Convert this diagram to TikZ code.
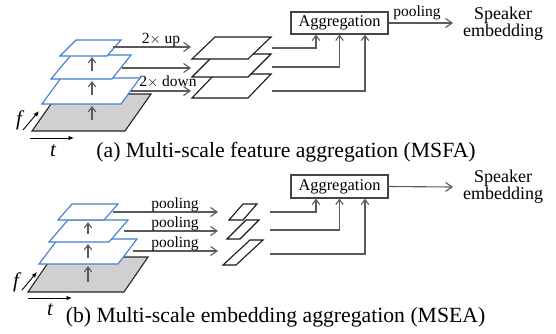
\documentclass[tikz,border=0pt]{standalone}
\usepackage{fontspec}
\setmainfont{Liberation Serif}
\usetikzlibrary{arrows.meta}
\definecolor{arrgray}{HTML}{5A5A5A}
\definecolor{planeblue}{HTML}{3F7FCC}
\definecolor{planegray}{HTML}{D0D0D0}
\definecolor{boxgray}{HTML}{444444}
\begin{document}
\begin{tikzpicture}[x=1pt,y=-1pt,
  arr/.style={draw=arrgray, line width=1.1pt, -{Straight Barb[length=6.5pt,width=9pt,line width=1.1pt]}},
  uparr/.style={draw=arrgray, line width=1.1pt, -{Straight Barb[length=5pt,width=7.5pt,line width=1.1pt]}},
  axarr/.style={draw=black, line width=0.9pt, -{Latex[length=5.5pt,width=4.5pt]}},
  blueplane/.style={draw=planeblue, line width=1.1pt, fill=white},
  grayplane/.style={draw=black!85, line width=1.1pt, fill=planegray},
  blackplane/.style={draw=black!90, line width=1.1pt, fill=white},
  aggbox/.style={draw=boxgray, line width=1.2pt, minimum width=97pt, minimum height=22pt, inner sep=0pt, font=\fontsize{16.4}{18}\selectfont},
  lbl/.style={font=\fontsize{15.5}{17}\selectfont, inner sep=1pt},
  spk/.style={font=\fontsize{18}{17.5}\selectfont, align=center, inner sep=0pt},
  captxt/.style={font=\fontsize{21.7}{24}\selectfont, inner sep=0pt},
  axlbl/.style={font=\fontsize{21}{24}\selectfont\itshape, inner sep=0pt}]
\path[use as bounding box] (0,0) rectangle (556,333);

% ================= Panel (a) =================
\draw[grayplane] (32,131) -- (125,131) -- (151,94) -- (58,94) -- cycle;
\draw[uparr] (92,120) -- (92,106);
\draw[blueplane] (42,104) -- (121,104) -- (140,78) -- (61,78) -- cycle;
\draw[uparr] (92,95) -- (92,81);
\draw[blueplane] (51,79) -- (112,79) -- (131,55) -- (71,55) -- cycle;
\draw[uparr] (92,71) -- (92,57);
\draw[blueplane] (60,56) -- (107,56) -- (121,40) -- (76,40) -- cycle;

\coordinate (fa0) at (23,130); \coordinate (fa1) at (39,111);
\draw[axarr] (fa0) -- (fa1);
\node[axlbl] (fA) at (19,120) {f};
\coordinate (ta0) at (30,138); \coordinate (ta1) at (74,138);
\draw[axarr] (ta0) -- (ta1);
\node[axlbl] (tA) at (53,151) {t};

% arrows to black planes
\coordinate (a1s) at (113,47); \coordinate (a1e) at (191,47);
\coordinate (a2s) at (122,68); \coordinate (a2e) at (191,68);
\coordinate (a3s) at (131,91); \coordinate (a3e) at (191,91);
\draw[arr] (a1s) -- (a1e);
\draw[arr] (a2s) -- (a2e);
\draw[arr] (a3s) -- (a3e);
\node[lbl] (upl) at (161,40) {2$\times$ up};
\node[lbl] (downl) at (168,82) {2$\times$ down};

% black planes
\draw[blackplane] (192,98) -- (248,98) -- (271,74) -- (215,74) -- cycle;
\draw[blackplane] (192,77) -- (248,77) -- (271,54) -- (215,54) -- cycle;
\draw[blackplane] (192,59) -- (248,59) -- (271,37) -- (215,37) -- cycle;

% aggregation
\node[aggbox] (aggA) at (339.5,23) {Aggregation};
\coordinate (l1a) at (272,48);
\coordinate (l2a) at (272,67);
\coordinate (l3a) at (272,91);
\draw[uparr] (l1a) -| ([xshift=-23.5pt]aggA.south);
\draw[uparr] (l2a) -| (aggA.south);
\draw[uparr] (l3a) -| ([xshift=25.5pt]aggA.south);
\node[spk] (spkA) at (503,23.5) {Speaker\\embedding};
\coordinate (pendA) at (453,23);
\draw[arr] (aggA.east) -- (pendA);
\node[lbl] (poolA) at (417,13) {pooling};

\node[captxt] (capA) at (286,152) {(a) Multi-scale feature aggregation (MSFA)};

% ================= Panel (b) =================
\draw[grayplane] (28,292) -- (124,292) -- (148,257) -- (52,257) -- cycle;
\draw[uparr] (88,282) -- (88,266);
\draw[blueplane] (39,264) -- (118,264) -- (137,239) -- (58,239) -- cycle;
\draw[uparr] (88,258) -- (88,244);
\draw[blueplane] (49,242) -- (109,242) -- (128,220) -- (68,220) -- cycle;
\draw[uparr] (88,234) -- (88,222);
\draw[blueplane] (58,220) -- (104,220) -- (118,204) -- (72,204) -- cycle;

\coordinate (fb0) at (22,290); \coordinate (fb1) at (37,272);
\draw[axarr] (fb0) -- (fb1);
\node[axlbl] (fB) at (16,282) {f};
\coordinate (tb0) at (28,298); \coordinate (tb1) at (72,298);
\draw[axarr] (tb0) -- (tb1);
\node[axlbl] (tB) at (50,310) {t};

\coordinate (b1s) at (113,212); \coordinate (b1e) at (218,212);
\coordinate (b2s) at (124,231); \coordinate (b2e) at (218,231);
\coordinate (b3s) at (133,251); \coordinate (b3e) at (218,251);
\draw[arr] (b1s) -- (b1e);
\draw[arr] (b2s) -- (b2e);
\draw[arr] (b3s) -- (b3e);
\node[lbl] (p1) at (175,205) {pooling};
\node[lbl] (p2) at (175,224) {pooling};
\node[lbl] (p3) at (175,244) {pooling};

\draw[blackplane] (223,265) -- (236,265) -- (263,240) -- (250,240) -- cycle;
\draw[blackplane] (227,239) -- (240,239) -- (259,220) -- (246,220) -- cycle;
\draw[blackplane] (229,220) -- (243,220) -- (257,204) -- (243,204) -- cycle;

\node[aggbox, minimum height=23pt] (aggB) at (339.5,186.5) {Aggregation};
\coordinate (l1b) at (270,212);
\coordinate (l2b) at (270,230);
\coordinate (l3b) at (270,254);
\draw[uparr] (l1b) -| ([xshift=-23.5pt]aggB.south);
\draw[uparr] (l2b) -| (aggB.south);
\draw[uparr] (l3b) -| ([xshift=25.5pt]aggB.south);
\node[spk] (spkB) at (503,186.5) {Speaker\\embedding};
\coordinate (pendB) at (453,187);
\draw[arr] (aggB.east) -- (pendB);

\node[captxt] (capB) at (275.5,317) {(b) Multi-scale embedding aggregation (MSEA)};
\end{tikzpicture}
\end{document}
